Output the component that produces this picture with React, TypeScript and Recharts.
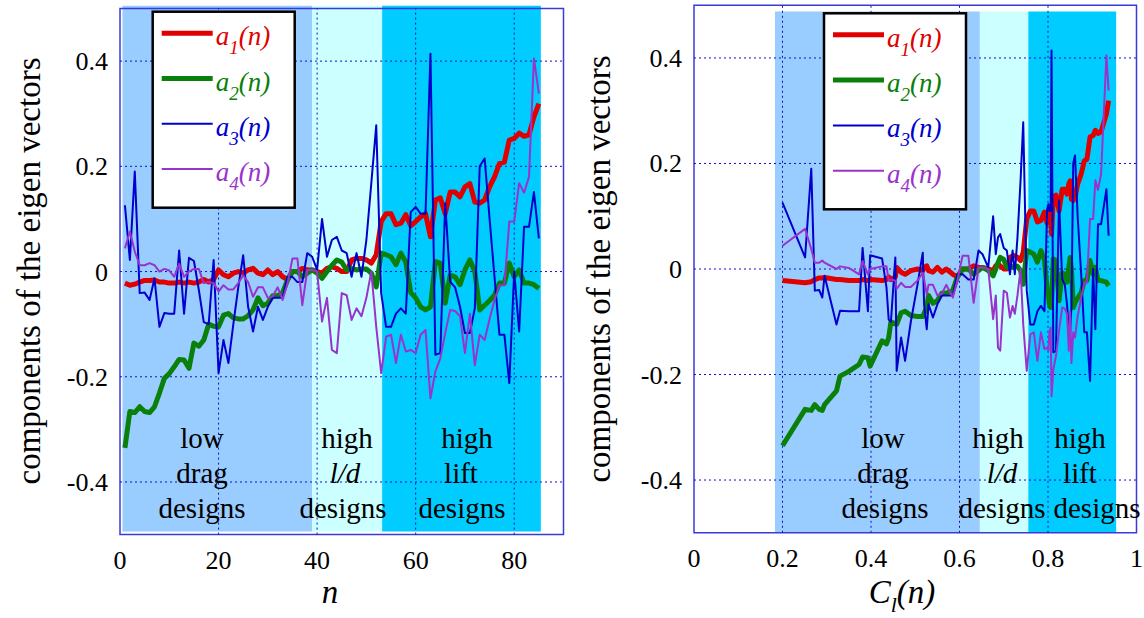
import React from 'react';
import { LineChart, Line, XAxis, YAxis, ReferenceArea, ReferenceLine } from 'recharts';

// design index n and its lift coefficient
const nValues = [
  1, 2, 3, 4, 5, 6, 7, 8, 9, 10, 11, 12, 13, 14, 15, 16, 17, 18, 19, 20,
  21, 22, 23, 24, 25, 26, 27, 28, 29, 30, 31, 32, 33, 34, 35, 36, 37, 38, 39, 40,
  41, 42, 43, 44, 45, 46, 47, 48, 49, 50, 51, 52, 53, 54, 55, 56, 57, 58, 59, 60,
  61, 62, 63, 64, 65, 66, 67, 68, 69, 70, 71, 72, 73, 74, 75, 76, 77, 78, 79, 80,
  81, 82, 83, 84, 85,
];
const clValues = [
  0.2, 0.251, 0.265, 0.273, 0.283, 0.29, 0.295, 0.322, 0.33, 0.35,
  0.373, 0.381, 0.393, 0.398, 0.425, 0.435, 0.44, 0.445, 0.455, 0.458,
  0.468, 0.477, 0.49, 0.505, 0.517, 0.52, 0.526, 0.53, 0.54, 0.55,
  0.56, 0.57, 0.585, 0.595, 0.607, 0.62, 0.632, 0.643, 0.652, 0.665,
  0.676, 0.682, 0.687, 0.692, 0.7, 0.707, 0.714, 0.72, 0.725, 0.731,
  0.738, 0.744, 0.752, 0.76, 0.768, 0.776, 0.784, 0.792, 0.798, 0.801,
  0.803, 0.806, 0.808, 0.812, 0.818, 0.825, 0.832, 0.838, 0.843, 0.847,
  0.85, 0.853, 0.857, 0.861, 0.867, 0.875, 0.882, 0.888, 0.895, 0.902,
  0.907, 0.913, 0.92, 0.932, 0.937,
];
const a1 = [
  -0.022, -0.026, -0.024, -0.02, -0.017, -0.017, -0.016, -0.02, -0.02, -0.022,
  -0.022, -0.02, -0.022, -0.02, -0.022, -0.02, -0.015, -0.02, -0.015, 0.003,
  -0.006, -0.01, -0.003, 0.0, -0.003, 0.003, 0.006, -0.003, -0.006, 0.003,
  -0.006, 0.0, -0.01, -0.015, 0.0, 0.0, 0.006, 0.003, 0.003, 0.0,
  -0.003, 0.006, 0.009, 0.006, 0.0, 0.0, 0.022, 0.025, 0.025, 0.022,
  0.016, 0.032, 0.095, 0.11, 0.11, 0.089, 0.092, 0.108, 0.087, 0.095,
  0.104, 0.11, 0.066, 0.136, 0.14, 0.11, 0.151, 0.151, 0.142, 0.161,
  0.167, 0.132, 0.13, 0.136, 0.161, 0.18, 0.205, 0.208, 0.25, 0.253,
  0.263, 0.257, 0.26, 0.294, 0.319,
];
const a2 = [
  -0.335, -0.266, -0.268, -0.257, -0.266, -0.268, -0.257, -0.231, -0.203, -0.194,
  -0.181, -0.167, -0.168, -0.184, -0.136, -0.142, -0.13, -0.1, -0.104, -0.105,
  -0.083, -0.08, -0.088, -0.09, -0.09, -0.084, -0.073, -0.05, -0.065, -0.06,
  -0.046, -0.046, -0.04, -0.016, 0.0, 0.0, -0.01, -0.003, 0.003, -0.003,
  -0.013, 0.0, 0.012, 0.022, 0.018, 0.003, 0.006, 0.003, 0.005, 0.005,
  -0.003, -0.029, 0.035, 0.032, 0.028, 0.013, 0.035, 0.018, -0.04, -0.05,
  -0.067, -0.073, -0.067, 0.019, 0.016, -0.06, -0.007, -0.01, -0.025, 0.003,
  0.022, 0.0, -0.073, -0.064, -0.055, -0.045, -0.022, -0.022, 0.016, -0.01,
  0.003, -0.022, -0.022, -0.025, -0.032,
];
const a3 = [
  0.126, 0.022, 0.19, -0.041, -0.04, -0.054, -0.013, -0.105, -0.079, -0.08,
  -0.08, 0.04, -0.08, 0.026, 0.02, -0.035, -0.096, -0.1, 0.022, -0.193,
  -0.13, -0.174, -0.1, -0.03, 0.031, -0.067, -0.114, -0.067, -0.092, -0.067,
  -0.05, -0.05, -0.05, -0.01, -0.01, -0.02, -0.02, 0.035, 0.028, 0.003,
  0.1, 0.028, 0.06, 0.066, 0.04, 0.035, -0.01, 0.035, -0.01, 0.06,
  0.168, 0.278, -0.041, -0.105, -0.105, -0.08, -0.07, -0.08, 0.113, 0.123,
  0.11, 0.11, 0.414, -0.158, -0.155, 0.13, -0.019, -0.03, -0.067, -0.117,
  -0.117, -0.07, 0.2, 0.215, 0.1, -0.01, -0.12, -0.12, -0.212, 0.0,
  -0.114, 0.085, 0.085, 0.151, 0.063,
];
const a4 = [
  0.044, 0.076, 0.038, 0.012, 0.012, 0.016, 0.012, 0.0, 0.005, 0.002,
  -0.01, 0.015, -0.01, 0.0, 0.005, 0.005, -0.022, -0.02, -0.022, -0.038,
  -0.026, -0.034, -0.034, -0.022, -0.007, -0.02, -0.048, -0.03, -0.03, -0.05,
  -0.047, -0.03, -0.054, -0.022, 0.025, 0.025, -0.064, 0.003, 0.003, 0.0,
  -0.095, -0.05, -0.149, -0.155, -0.041, -0.045, -0.092, -0.07, -0.085, -0.05,
  0.0, -0.105, -0.193, -0.124, -0.12, -0.174, -0.12, -0.152, -0.149, -0.155,
  -0.12, -0.111, -0.241, -0.19, -0.165, -0.117, -0.073, -0.075, -0.085, -0.155,
  -0.08, -0.178, -0.12, -0.13, -0.09, -0.054, -0.026, -0.026, 0.095, 0.095,
  0.168, 0.15, 0.18, 0.405, 0.338,
];

const nTicks = [0, 20, 40, 60, 80];
const clTicks = [0, 0.2, 0.4, 0.6, 0.8, 1];
const yTicks = [-0.4, -0.2, 0, 0.2, 0.4];

const rows = nValues.map((n, i) => ({ n, cl: clValues[i], a1: a1[i], a2: a2[i], a3: a3[i], a4: a4[i] }));

const SERIES = [
  { key: 'a1', sub: '1', color: '#e00000', width: 5 },
  { key: 'a2', sub: '2', color: '#0a800a', width: 5 },
  { key: 'a3', sub: '3', color: '#0000cc', width: 2 },
  { key: 'a4', sub: '4', color: '#9933cc', width: 2 },
];

const SERIF = "'Liberation Serif', 'Times New Roman', serif";
const GRID = '#1010cc';
const FRAME = '#3a3ad8';
const serif = (size: number, italic = false) => ({ fontFamily: SERIF, fontSize: size, fontStyle: italic ? 'italic' : 'normal' });

type Band = { x1: number; x2: number; y1: number; y2: number; fill: string };

const leftBands: Band[] = [
  { x1: 0.5, x2: 39, y1: -0.494, y2: 0.505, fill: '#99ccff' },
  { x1: 39, x2: 53.2, y1: -0.494, y2: 0.505, fill: '#ccffff' },
  { x1: 53.2, x2: 85.4, y1: -0.494, y2: 0.505, fill: '#00ccff' },
];
const rightBands: Band[] = [
  { x1: 0.183, x2: 0.646, y1: -0.5, y2: 0.488, fill: '#99ccff' },
  { x1: 0.646, x2: 0.7555, y1: -0.5, y2: 0.488, fill: '#ccffff' },
  { x1: 0.7555, x2: 0.954, y1: -0.5, y2: 0.488, fill: '#00ccff' },
];

const XTick = ({ x, y, payload }: any) => (
  <text x={x} y={y + 26} textAnchor="middle" fill="#000" style={serif(26)}>{String(payload.value)}</text>
);
const YTick = ({ x, y, payload }: any) => (
  <text x={x} y={y + 9} textAnchor="end" fill="#000" style={serif(26)}>{String(payload.value)}</text>
);

function Panel({ xKey, domain, ticks, bands, width, margin, left }: any) {
  const vLines = ticks.filter((t: number) => t > domain[0] && t < domain[1]);
  return (
    <div style={{ position: 'absolute', left, top: 0 }}>
      <LineChart width={width} height={618} data={rows} margin={margin}>
        <XAxis
          dataKey={xKey}
          type="number"
          domain={domain}
          ticks={ticks}
          interval={0}
          allowDataOverflow
          axisLine={false}
          tickLine={false}
          tickSize={0}
          tickMargin={8}
          height={40}
          tick={<XTick />}
        />
        <YAxis
          type="number"
          domain={[-0.5, 0.5]}
          ticks={yTicks}
          interval={0}
          allowDataOverflow
          axisLine={false}
          tickLine={false}
          tickSize={0}
          tickMargin={12}
          width={60}
          tick={<YTick />}
        />
        {bands.map((b: Band, i: number) => (
          <ReferenceArea key={i} x1={b.x1} x2={b.x2} y1={b.y1} y2={b.y2} fill={b.fill} fillOpacity={1} stroke="none" ifOverflow="visible" />
        ))}
        {vLines.map((t: number) => (
          <ReferenceLine key={'v' + t} x={t} stroke={GRID} strokeDasharray="2 3" strokeWidth={1} />
        ))}
        {yTicks.map((t) => (
          <ReferenceLine key={'h' + t} y={t} stroke={GRID} strokeDasharray="2 3" strokeWidth={1} />
        ))}
        {SERIES.map((s) => (
          <Line
            key={s.key}
            type="linear"
            dataKey={s.key}
            stroke={s.color}
            strokeWidth={s.width}
            strokeLinejoin="round"
            dot={false}
            activeDot={false}
            isAnimationActive={false}
          />
        ))}
        <ReferenceArea x1={domain[0]} x2={domain[1]} y1={-0.5} y2={0.5} fill="none" stroke={FRAME} strokeWidth={1.5} ifOverflow="visible" />
      </LineChart>
    </div>
  );
}

function Legend({ x, y }: { x: number; y: number }) {
  return (
    <g>
      <rect x={x} y={y} width={142} height={196} fill="#fff" stroke="#000" strokeWidth={2.5} />
      {SERIES.map((s, i) => {
        const ly = y + 21.5 + i * 45.3;
        return (
          <g key={s.key}>
            <line x1={x + 9} x2={x + 60} y1={ly} y2={ly} stroke={s.color} strokeWidth={s.width} />
            <text x={x + 63} y={ly + 12} fill={s.color} style={serif(27, true)}>
              a<tspan style={serif(19, true)} dy={9}>{s.sub}</tspan>
              <tspan dy={-9} style={serif(27, true)}>(n)</tspan>
            </text>
          </g>
        );
      })}
    </g>
  );
}

function Note({ x, lines }: { x: number[]; lines: any[] }) {
  const base = [448, 483, 518];
  return (
    <g>
      {lines.map((l, i) => (
        <text key={i} x={x[i]} y={base[i]} textAnchor="middle" fill="#000" style={serif(29)}>
          {l}
        </text>
      ))}
    </g>
  );
}

export default function App() {
  const ld = <tspan style={serif(29, true)}>l/d</tspan>;
  return (
    <div style={{ position: 'absolute', left: 0, top: 0, width: 1144, height: 618, background: '#fff', overflow: 'hidden' }}>
      <Panel xKey="n" domain={[0, 90]} ticks={nTicks} bands={leftBands} width={580} left={0}
        margin={{ top: 8.5, right: 16.5, bottom: 43.4, left: 60 }} />
      <Panel xKey="cl" domain={[0, 1]} ticks={clTicks} bands={rightBands} width={564} left={580}
        margin={{ top: 5.2, right: 7.5, bottom: 45.2, left: 54 }} />
      <svg width={1144} height={618} style={{ position: 'absolute', left: 0, top: 0, pointerEvents: 'none' }}>
        <Legend x={152.7} y={11.7} />
        <Legend x={824} y={13.3} />
        <Note x={[202, 202, 202]} lines={['low', 'drag', 'designs']} />
        <Note x={[347, 345, 343]} lines={['high', ld, 'designs']} />
        <Note x={[467, 461, 462]} lines={['high', 'lift', 'designs']} />
        <Note x={[883, 883, 885]} lines={['low', 'drag', 'designs']} />
        <Note x={[998, 1002, 1002]} lines={['high', ld, 'designs']} />
        <Note x={[1080, 1080, 1097]} lines={['high', 'lift', 'designs']} />
        <text transform="rotate(-90 29 271)" x={29} y={271} textAnchor="middle" dominantBaseline="central"
          fill="#000" style={serif(33)}>components of the eigen vectors</text>
        <text transform="rotate(-90 599 269)" x={599} y={269} textAnchor="middle" dominantBaseline="central"
          fill="#000" style={serif(33)}>components of the eigen vectors</text>
        <text x={330} y={603} textAnchor="middle" fill="#000" style={serif(33, true)}>n</text>
        <text x={902} y={603} textAnchor="middle" fill="#000" style={serif(33, true)}>
          C<tspan style={serif(22, true)} dy={9}>l</tspan><tspan dy={-9} style={serif(33, true)}>(n)</tspan>
        </text>
      </svg>
    </div>
  );
}
